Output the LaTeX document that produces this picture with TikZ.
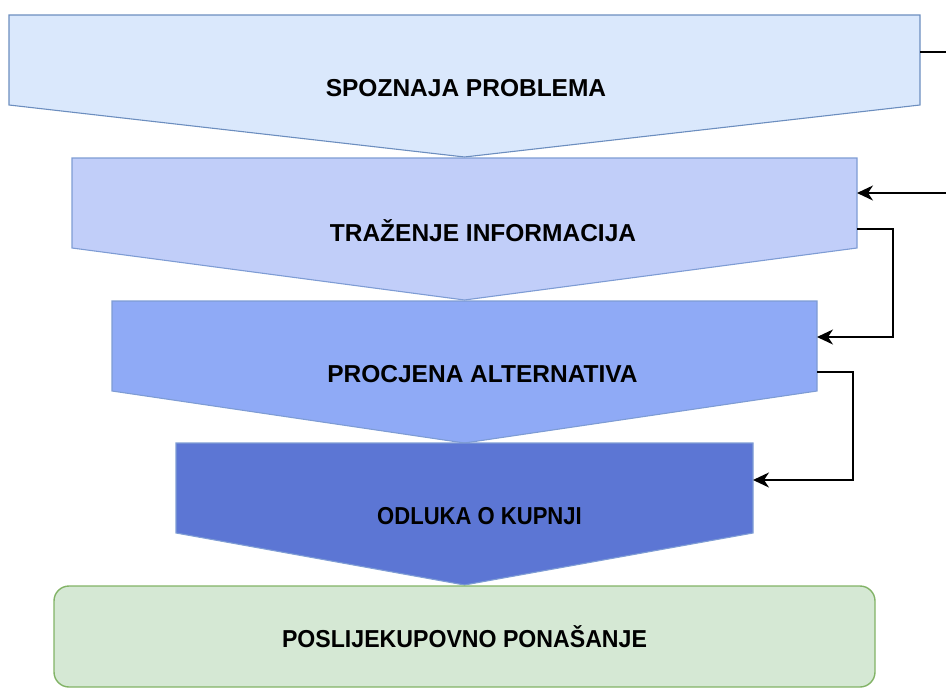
\documentclass[tikz,border=0pt]{standalone}
\usepackage{fontspec}
\usepackage{graphicx}
\setmainfont{Liberation Sans}
\usetikzlibrary{calc,arrows.meta}
\definecolor{fillA}{HTML}{DAE8FC}
\definecolor{fillB}{HTML}{C1CEF9}
\definecolor{fillC}{HTML}{8FAAF6}
\definecolor{fillD}{HTML}{5C76D4}
\definecolor{strokeA}{HTML}{6C8EBF}
\definecolor{strokeB}{HTML}{7E9CD4}
\definecolor{greenfill}{HTML}{D5E8D4}
\definecolor{greenstroke}{HTML}{82B366}
\tikzset{
  stagebox/.style={inner sep=0pt, outer sep=0pt, minimum height=142pt, font=\fontsize{24.5}{29}\selectfont\bfseries},
  stageshape/.style={line width=1.1pt},
  conn/.style={line width=2pt, black, -{Stealth[length=16pt,width=15pt,inset=5pt]}},
  lastbox/.style={draw=greenstroke, fill=greenfill, line width=1.4pt, rounded corners=15pt, inner sep=0pt, outer sep=0pt, minimum width=821pt, minimum height=101pt, font=\fontsize{24.5}{29}\selectfont\bfseries}
}
\newcommand{\chevron}[3]{%
  \draw[stageshape, fill=#2, draw=#3] (#1.north west) -- (#1.north east) -- ($(#1.north east)+(0,-90pt)$) -- (#1.south) -- ($(#1.north west)+(0,-90pt)$) -- cycle;}
\begin{document}
\begin{tikzpicture}[x=1pt,y=-1pt]
\useasboundingbox (0,0) rectangle (946,688);
\clip (0,0) rectangle (946,688);
% nodes covering the full chevron bounds
\node[stagebox, minimum width=911pt] (s1) at (464.5,86) {};
\node[stagebox, minimum width=785pt] (s2) at (464.5,229) {};
\node[stagebox, minimum width=705pt] (s3) at (464.5,372) {};
\node[stagebox, minimum width=577pt] (s4) at (464.5,514) {};
\chevron{s1}{fillA}{strokeA}
\chevron{s2}{fillB}{strokeB}
\chevron{s3}{fillC}{strokeB}
\chevron{s4}{fillD}{strokeB}
\node[stagebox] (t1) at (466,88) {SPOZNAJA PROBLEMA};
\node[stagebox] (t2) at (483,231) {TRAŽENJE INFORMACIJA};
\node[stagebox] (t3) at (482.5,374) {PROCJENA ALTERNATIVA};
\node[stagebox] (t4) at (479.5,516) {\scalebox{0.9}[1]{ODLUKA O KUPNJI}};
\node[lastbox] (s5) at (464.5,636.5) {\scalebox{0.944}[1]{POSLIJEKUPOVNO PONAŠANJE}};
% connectors
\coordinate (off1) at (965,52);
\draw[conn] ($(s1.north east)+(0,-37pt)$) -- (off1) |- ($(s2.north east)+(0,-35pt)$);
\draw[conn] ($(s2.north east)+(0,-71pt)$) -- ++(36pt,0) |- ($(s3.north east)+(0,-36pt)$);
\draw[conn] ($(s3.north east)+(0,-71pt)$) -- ++(36pt,0) |- ($(s4.north east)+(0,-37pt)$);
\end{tikzpicture}
\end{document}
